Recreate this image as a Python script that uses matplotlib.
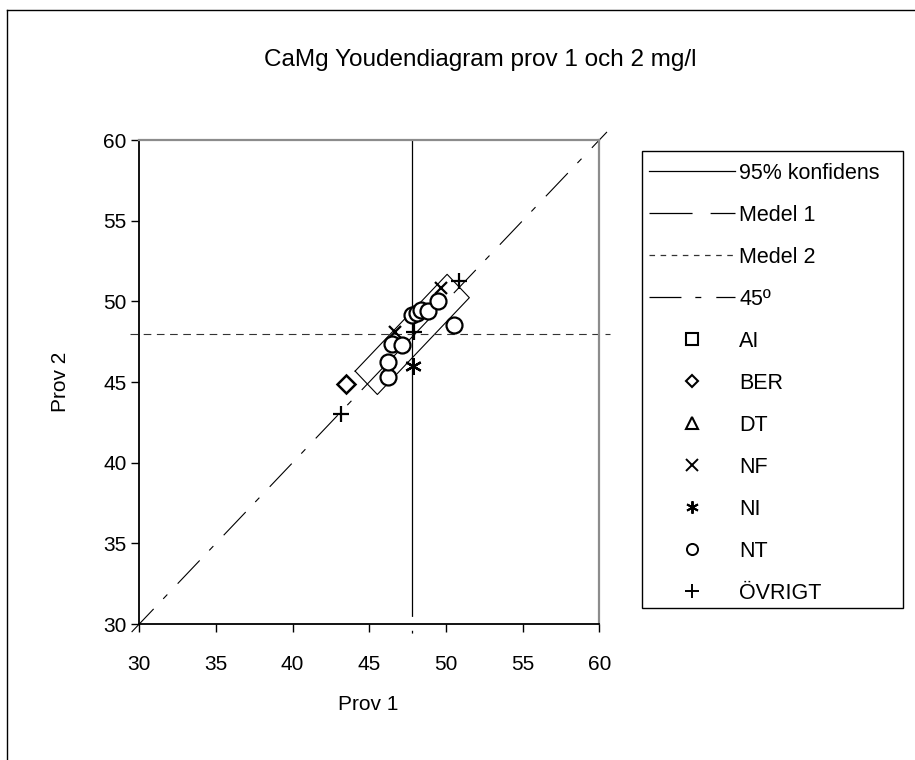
import matplotlib
matplotlib.use('Agg')
import matplotlib.pyplot as plt
from matplotlib.lines import Line2D
from matplotlib.patches import Rectangle
import numpy as np

plt.rcParams['font.family'] = ['Liberation Sans', 'DejaVu Sans']
plt.rcParams['lines.scale_dashes'] = False

# ---- data ----
title = "CaMg Youdendiagram prov 1 och 2 mg/l"
xlabel = "Prov 1"
ylabel = "Prov 2"
axis_min, axis_max = 30, 60
ticks = [30, 35, 40, 45, 50, 55, 60]

medel1 = 47.8
medel2 = 47.95
conf_along = 6.0     # half extent of 95% box along 45° line (in x+y units)
conf_across = 1.45   # half extent of 95% box across 45° line (in y-x units)

ai_x, ai_y = [], []
ber_x, ber_y = [43.5], [44.9]
dt_x, dt_y = [], []
nf_x, nf_y = [46.65, 49.7], [48.1, 50.8]
ni_x, ni_y = [47.85], [46.0]
nt_x = [46.2, 46.2, 46.45, 47.1, 47.8, 48.1, 48.4, 48.85, 49.5, 50.5]
nt_y = [45.3, 46.25, 47.35, 47.3, 49.15, 49.3, 49.45, 49.4, 50.0, 48.55]
ov_x, ov_y = [43.15, 47.9, 50.85], [43.0, 48.1, 51.25]

legend_labels = ["95% konfidens", "Medel 1", "Medel 2", "45º",
                 "AI", "BER", "DT", "NF", "NI", "NT", "ÖVRIGT"]

# ---- figure ----
W, H = 915, 760
fig = plt.figure(figsize=(W / 100, H / 100), dpi=100)
fig.patch.set_facecolor('white')

# outer chart border (left & top visible)
fig.add_artist(Line2D([7 / W, 7 / W], [0, 1 - 10 / H], transform=fig.transFigure, color='black', lw=1.0))
fig.add_artist(Line2D([7 / W, 1], [1 - 10 / H, 1 - 10 / H], transform=fig.transFigure, color='black', lw=1.0))

ax_l, ax_r, ax_t, ax_b = 139.3, 599.3, 140, 624
ax = fig.add_axes([ax_l / W, 1 - ax_b / H, (ax_r - ax_l) / W, (ax_b - ax_t) / H])
ax.set_xlim(axis_min, axis_max)
ax.set_ylim(axis_min, axis_max)

FS = 15

# 95% confidence box
S = medel1 + medel2
D = medel2 - medel1
s_vals = [S - conf_along, S - conf_along, S + conf_along, S + conf_along, S - conf_along]
d_vals = [D + conf_across, D - conf_across, D - conf_across, D + conf_across, D + conf_across]
box_x = [(s - d) / 2 for s, d in zip(s_vals, d_vals)]
box_y = [(s + d) / 2 for s, d in zip(s_vals, d_vals)]
ax.plot(box_x, box_y, color='black', lw=0.8, zorder=2)

# mean lines
ax.plot([medel1, medel1], [axis_max, axis_min - 0.6], color='black', lw=0.9,
        dashes=(343, 10, 2, 100), clip_on=False, zorder=2)
ax.plot([axis_min - 0.6, axis_max + 0.7], [medel2, medel2], color='#333333', lw=0.8,
        dashes=(5.5, 4), clip_on=False, zorder=2)
# 45 degree line
ax.plot([axis_min - 0.5, axis_max + 0.5], [axis_min - 0.5, axis_max + 0.5], color='black', lw=0.8,
        dashes=(23, 10, 4.3, 10.8), clip_on=False, zorder=2)

mk = dict(linestyle='none', color='black', zorder=3)
ax.plot(ai_x, ai_y, marker='s', ms=10, mfc='white', mew=1.5, **mk)
ax.plot(dt_x, dt_y, marker='^', ms=10, mfc='white', mew=1.5, **mk)
ax.plot(ber_x, ber_y, marker='D', ms=9, mfc='white', mew=1.8, **mk)
ax.plot(nf_x, nf_y, marker='x', ms=9, mew=1.6, **mk)
ax.plot(ni_x, ni_y, marker=(6, 2, 0), ms=12, mew=1.6, **mk)
ax.plot(nt_x, nt_y, marker='o', ms=11.5, mfc='white', mew=1.6, **mk)
ax.plot(ov_x, ov_y, marker='+', ms=11, mew=1.6, **mk)

ax.set_xticks(ticks)
ax.set_yticks(ticks)
ax.tick_params(axis='both', direction='out', length=6, width=1, labelsize=FS, colors='black')
ax.tick_params(axis='x', pad=16)
ax.tick_params(axis='y', pad=3)
for side in ['left', 'bottom']:
    ax.spines[side].set_color('black')
    ax.spines[side].set_linewidth(1.3)
for side in ['top', 'right']:
    ax.spines[side].set_color('#8c8c8c')
    ax.spines[side].set_linewidth(1.6)

fig.text(368 / W, 1 - 705 / H, xlabel, ha='center', va='center', fontsize=FS)
fig.text(60 / W, 1 - 382 / H, ylabel, ha='center', va='center', fontsize=FS, rotation=90)
fig.text(480 / W, 1 - 60 / H, title, ha='center', va='center', fontsize=17.5)

# legend
handles = [
    Line2D([], [], color='black', lw=0.9),
    Line2D([], [], color='black', lw=0.9, dashes=(31, 13)),
    Line2D([], [], color='#333333', lw=0.9, dashes=(4, 4)),
    Line2D([], [], color='black', lw=0.9, dashes=(23, 10, 4.3, 10.8)),
    Line2D([], [], linestyle='none', color='black', marker='s', ms=8, mfc='white', mew=1.5),
    Line2D([], [], linestyle='none', color='black', marker='D', ms=6.5, mfc='white', mew=1.5),
    Line2D([], [], linestyle='none', color='black', marker='^', ms=8, mfc='white', mew=1.5),
    Line2D([], [], linestyle='none', color='black', marker='x', ms=8, mew=1.4),
    Line2D([], [], linestyle='none', color='black', marker=(6, 2, 0), ms=9, mew=1.4),
    Line2D([], [], linestyle='none', color='black', marker='o', ms=8, mfc='white', mew=1.4),
    Line2D([], [], linestyle='none', color='black', marker='+', ms=10, mew=1.4),
]
leg = fig.legend(handles, legend_labels, loc='upper left',
                 bbox_to_anchor=(649 / W, 1 - 163 / H), bbox_transform=fig.transFigure,
                 frameon=False, prop={'size': 15.5}, handlelength=4.0, handletextpad=0.2,
                 labelspacing=0.975, borderpad=0, borderaxespad=0)
fig.add_artist(Rectangle((642 / W, 1 - 608 / H), (903 - 642) / W, (608 - 151) / H,
                         transform=fig.transFigure, fill=False, edgecolor='black', lw=1.0))

fig.savefig('out.png', dpi=100, facecolor='white')
